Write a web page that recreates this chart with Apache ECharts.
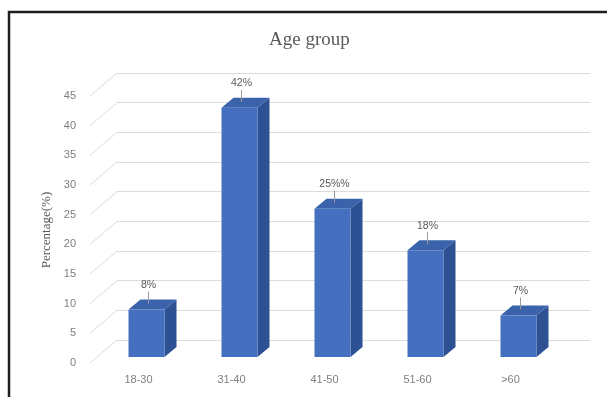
<!DOCTYPE html>
<html>
<head>
<meta charset="utf-8">
<script src="https://cdn.jsdelivr.net/npm/echarts@6/dist/echarts.min.js"></script>
<style>
  html, body { margin: 0; padding: 0; background: #fff; }
  #chart { width: 607px; height: 397px; }
</style>
</head>
<body>
<div id="chart"></div>
<script>
// 数据
const categories = ['18-30', '31-40', '41-50', '51-60', '>60'];
const values = [8, 42, 25, 18, 7];
const valueLabels = ['8%', '42%', '25%%', '18%', '7%'];
const yTicks = [0, 5, 10, 15, 20, 25, 30, 35, 40, 45];

// 3D 效果的偏移
const DEPTH_X = 12, DEPTH_Y = 10;     // 柱子厚度
const WALL_X = 27, WALL_Y = 23;       // 前平面到背墙
const BAR_W = 36;

const myChart = echarts.init(document.getElementById('chart'));

// 柱子: 正面 + 侧面 + 顶面 + 标签
const renderBar = (params, api) => {
  const x = api.value(0);
  const top = api.coord([x, api.value(1)]);
  const base = api.coord([x, 0]);
  const x0 = top[0] - BAR_W / 2;
  const x1 = x0 + BAR_W;
  const ty = top[1], by = base[1];
  const lx = top[0] + 2;
  const ly = ty - DEPTH_Y;
  return {
    type: 'group',
    children: [
      {
        type: 'polygon',
        shape: { points: [[x1, ty], [x1 + DEPTH_X, ty - DEPTH_Y], [x1 + DEPTH_X, by - DEPTH_Y], [x1, by]] },
        style: { fill: '#2d5193' }
      },
      {
        type: 'polygon',
        shape: { points: [[x0, ty], [x0 + DEPTH_X, ty - DEPTH_Y], [x1 + DEPTH_X, ty - DEPTH_Y], [x1, ty]] },
        style: { fill: '#3a63ab' }
      },
      {
        type: 'rect',
        shape: { x: x0, y: ty, width: BAR_W, height: by - ty },
        style: { fill: '#4570bf' }
      },
      {
        type: 'line',
        shape: { x1: lx, y1: ly - 8, x2: lx, y2: ly + 4 },
        style: { stroke: '#9a9a9a', lineWidth: 1 }
      },
      {
        type: 'text',
        x: lx, y: ly - 9,
        style: {
          text: valueLabels[params.dataIndex],
          fill: '#595959',
          font: '10.5px "Liberation Sans", Arial, sans-serif',
          align: 'center',
          verticalAlign: 'bottom'
        }
      }
    ]
  };
};

// 侧墙的斜线
const renderWallLine = (params, api) => {
  const p = api.coord([0, api.value(0)]);
  return {
    type: 'line',
    shape: { x1: p[0], y1: p[1], x2: p[0] - WALL_X, y2: p[1] + WALL_Y },
    style: { stroke: '#dcdcdc', lineWidth: 1 }
  };
};

const options = {
  backgroundColor: '#fff',
  title: {
    text: 'Age group',
    left: 264,
    top: 26,
    textStyle: {
      fontFamily: '"Liberation Serif", "Times New Roman", serif',
      fontSize: 19,
      fontWeight: 'normal',
      color: '#595959'
    }
  },
  graphic: [
    {
      type: 'rect',
      shape: { x: 9, y: 12, width: 640, height: 420 },
      style: { fill: 'none', stroke: '#1e1e1e', lineWidth: 2.5 }
    },
    {
      type: 'text',
      x: 47, y: 230,
      rotation: Math.PI / 2,
      style: {
        text: 'Percentage(%)',
        fill: '#595959',
        font: '13px "Liberation Serif", "Times New Roman", serif',
        align: 'center',
        verticalAlign: 'middle'
      }
    }
  ],
  grid: [
    // 0: 前平面，只放 y 轴刻度
    { left: 80, top: 96, width: 20, height: 267 },
    // 1: 柱子平面
    { left: 100, top: 90, width: 465, height: 267 },
    // 2: 背墙
    { left: 117, top: 73, width: 473, height: 267 }
  ],
  xAxis: [
    { gridIndex: 0, type: 'value', show: false, min: 0, max: 1 },
    {
      gridIndex: 1,
      type: 'category',
      data: categories,
      axisLine: { show: false },
      axisTick: { show: false },
      axisLabel: {
        margin: 17,
        padding: [0, 16, 0, 0],
        color: '#7f7f7f',
        fontSize: 11,
        fontFamily: '"Liberation Sans", Arial, sans-serif'
      }
    },
    { gridIndex: 2, type: 'value', show: false, min: 0, max: 1 }
  ],
  yAxis: [
    {
      gridIndex: 0,
      type: 'value',
      min: 0, max: 45, interval: 5,
      axisLine: { show: false },
      axisTick: { show: false },
      splitLine: { show: false },
      axisLabel: {
        margin: 4,
        color: '#7f7f7f',
        fontSize: 11,
        fontFamily: '"Liberation Sans", Arial, sans-serif'
      }
    },
    {
      gridIndex: 1,
      type: 'value',
      min: 0, max: 45, interval: 5,
      show: false
    },
    {
      gridIndex: 2,
      type: 'value',
      min: 0, max: 45, interval: 5,
      axisLine: { show: false },
      axisTick: { show: false },
      axisLabel: { show: false },
      splitLine: { show: true, lineStyle: { color: '#dcdcdc', width: 1 } }
    }
  ],
  series: [
    {
      type: 'custom',
      xAxisIndex: 2,
      yAxisIndex: 2,
      silent: true,
      renderItem: renderWallLine,
      data: yTicks.map(v => [v])
    },
    {
      type: 'custom',
      xAxisIndex: 1,
      yAxisIndex: 1,
      renderItem: renderBar,
      data: categories.map((c, i) => [i, values[i]])
    }
  ]
};

myChart.setOption(options);
</script>
</body>
</html>
